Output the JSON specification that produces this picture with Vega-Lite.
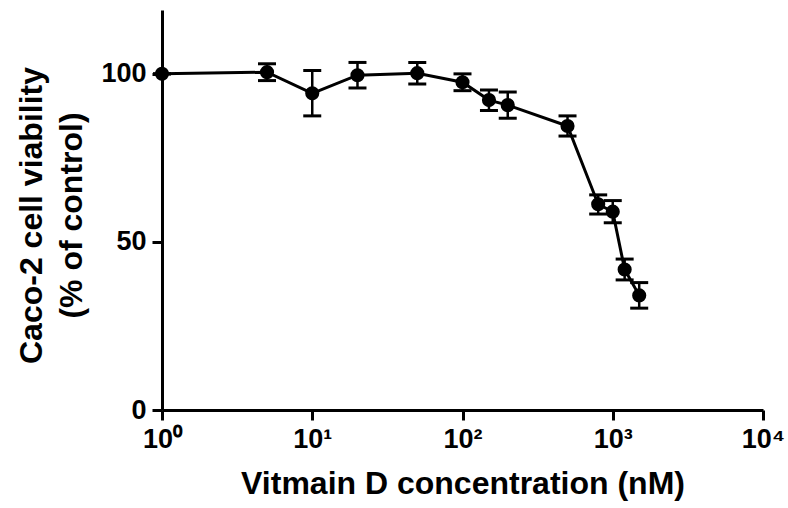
{
  "$schema": "https://vega.github.io/schema/vega-lite/v6.json",
  "width": 601,
  "height": 400,
  "autosize": {"type": "none"},
  "padding": {"left": 162, "top": 10, "right": 25, "bottom": 98},
  "background": "white",
  "config": {
    "view": {"stroke": null},
    "font": "Liberation Sans",
    "axis": {
      "domainColor": "black", "domainWidth": 3, "tickColor": "black", "tickWidth": 3, "tickSize": 10,
      "labelColor": "black", "labelFont": "Liberation Sans", "labelFontWeight": "bold", "labelFontSize": 27,
      "titleColor": "black", "titleFont": "Liberation Sans", "titleFontWeight": "bold", "titleFontSize": 32,
      "grid": false
    }
  },
  "data": {
    "values": [
      {"conc": 1, "viability": 100.0, "lo": 100.0, "hi": 100.0},
      {"conc": 5, "viability": 100.5, "lo": 98.0, "hi": 103.0},
      {"conc": 10, "viability": 94.2, "lo": 87.5, "hi": 101.0},
      {"conc": 20, "viability": 99.6, "lo": 95.8, "hi": 103.4},
      {"conc": 50, "viability": 100.2, "lo": 97.0, "hi": 103.4},
      {"conc": 100, "viability": 97.5, "lo": 95.0, "hi": 100.0},
      {"conc": 150, "viability": 92.2, "lo": 89.1, "hi": 95.2},
      {"conc": 200, "viability": 90.7, "lo": 86.8, "hi": 94.6},
      {"conc": 500, "viability": 84.5, "lo": 81.5, "hi": 87.5},
      {"conc": 800, "viability": 61.2, "lo": 58.3, "hi": 64.0},
      {"conc": 1000, "viability": 59.0, "lo": 55.7, "hi": 62.3},
      {"conc": 1200, "viability": 41.8, "lo": 38.7, "hi": 44.9},
      {"conc": 1500, "viability": 34.1, "lo": 30.3, "hi": 37.9}
    ]
  },
  "encoding": {
    "x": {
      "field": "conc", "type": "quantitative",
      "scale": {"type": "log", "domain": [1, 10000], "nice": false},
      "axis": {
        "title": "Vitmain D concentration (nM)",
        "values": [1, 10, 100, 1000, 10000],
        "labelExpr": "datum.value == 1 ? '10⁰' : datum.value == 10 ? '10¹' : datum.value == 100 ? '10²' : datum.value == 1000 ? '10³' : '10⁴'",
        "labelPadding": 6, "labelFlush": false, "labelOverlap": false,
        "titlePadding": 16
      }
    }
  },
  "layer": [
    {
      "mark": {"type": "line", "color": "black", "strokeWidth": 3},
      "encoding": {
        "y": {
          "field": "viability", "type": "quantitative",
          "scale": {"domain": [0, 119], "nice": false, "zero": false},
          "axis": {
            "title": ["Caco-2 cell viability", "(% of control)"],
            "values": [0, 50, 100],
            "labelPadding": 6,
            "titleAngle": -90,
            "titleX": -146, "titleY": 205,
            "titleAlign": "center", "titleBaseline": "top",
            "titleLineHeight": 40
          }
        }
      }
    },
    {
      "mark": {"type": "rule", "color": "black", "strokeWidth": 2.5},
      "encoding": {
        "y": {"field": "lo", "type": "quantitative"},
        "y2": {"field": "hi"}
      }
    },
    {
      "mark": {"type": "tick", "color": "black", "opacity": 1, "orient": "horizontal", "size": 18, "thickness": 3},
      "encoding": {"y": {"field": "lo", "type": "quantitative"}}
    },
    {
      "mark": {"type": "tick", "color": "black", "opacity": 1, "orient": "horizontal", "size": 18, "thickness": 3},
      "encoding": {"y": {"field": "hi", "type": "quantitative"}}
    },
    {
      "mark": {"type": "point", "filled": true, "color": "black", "opacity": 1, "size": 200, "shape": "circle"},
      "encoding": {"y": {"field": "viability", "type": "quantitative"}}
    }
  ]
}
